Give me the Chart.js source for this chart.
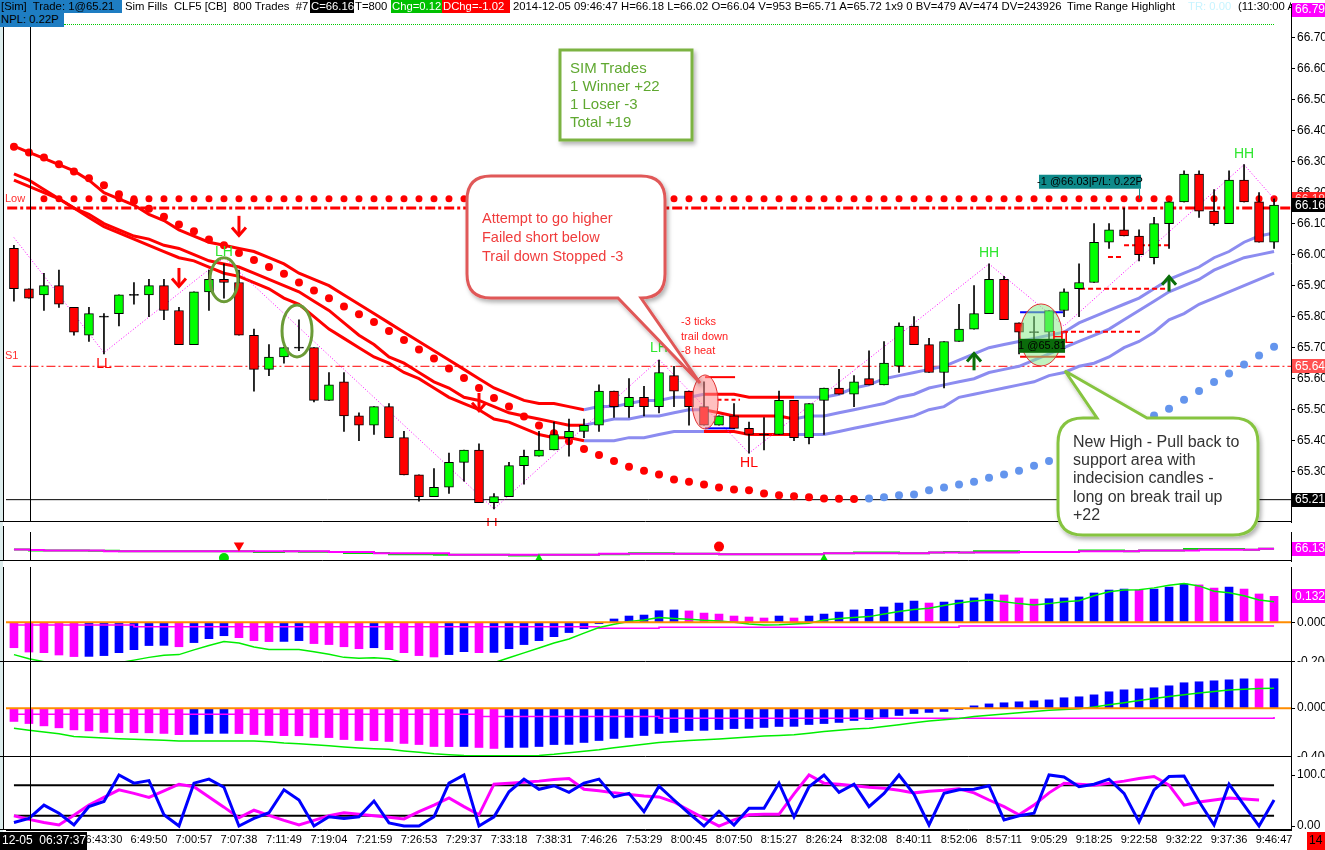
<!DOCTYPE html>
<html>
<head>
<meta charset="utf-8">
<title>CLF5 800 Trades</title>
<script src="https://cdn.jsdelivr.net/npm/chart.js@4.4.1/dist/chart.umd.min.js"></script>
<style>
  html, body { margin: 0; padding: 0; background: #fff; overflow: hidden; }
  #wrap { position: relative; width: 1325px; height: 850px; font-family: "Liberation Sans", Arial, sans-serif; }
  #wrap canvas { position: absolute; left: 0; }
  #header { position: absolute; left: 0; top: 0; width: 1291px; height: 27px; overflow: hidden; font-size: 11.3px; line-height: 13px; white-space: pre; }
  #header span { position: absolute; top: 0; height: 13px; }
  #header .box { text-align: left; padding-left: 1px; }
  #dots { position: absolute; left: 64px; top: 24px; width: 1210px; border-top: 1px dotted #00cc00; }
  #notes { position: absolute; left: 0; top: 0; pointer-events: none; }
</style>
</head>
<body>
<div id="wrap">
  <canvas id="cMain" width="1325" height="526" style="top:0"></canvas>
  <canvas id="cSig" width="1325" height="41" style="top:526px"></canvas>
  <canvas id="cHist1" width="1325" height="95" style="top:567px"></canvas>
  <canvas id="cHist2" width="1325" height="95" style="top:662px"></canvas>
  <canvas id="cStoch" width="1325" height="93" style="top:757px"></canvas>

  <div id="header">
    <span class="box" style="left:0;width:121px;background:#1e7dc2;color:#000">[Sim]  Trade: 1@65.21</span>
    <span style="left:125px">Sim Fills  CLF5 [CB]  800 Trades  #7</span>
    <span class="box" style="left:310px;width:43px;background:#000;color:#fff">C=66.16</span>
    <span style="left:355px">T=800</span>
    <span class="box" style="left:391px;width:50px;background:#00c000;color:#fff">Chg=0.12</span>
    <span class="box" style="left:442px;width:67px;background:#ff0000;color:#fff">DChg=-1.02</span>
    <span style="left:513px">2014-12-05 09:46:47 H=66.18 L=66.02 O=66.04 V=953 B=65.71 A=65.72 1x9 0 BV=479 AV=474 DV=243926</span>
    <span style="left:1067px">Time Range Highlight</span>
    <span style="left:1188px;color:#c8f4ff">TR: 0.00</span>
    <span style="left:1238px">(11:30:00 AM</span>
    <span class="box" style="left:0;top:13px;width:63px;height:14px;background:#1e7dc2;color:#000">NPL: 0.22P</span>
    <div id="dots"></div>
  </div>

  <svg id="notes" width="1325" height="850">
    <defs>
      <filter id="sh" x="-10%" y="-10%" width="130%" height="130%">
        <feDropShadow dx="2" dy="3" stdDeviation="2" flood-color="#000" flood-opacity="0.3"/>
      </filter>
    </defs>
    <rect x="560" y="50" width="132" height="90" fill="#fff" stroke="#7cb342" stroke-width="3" filter="url(#sh)"/>
    <text font-family="Liberation Sans, Arial" font-size="15" fill="#5fa830">
      <tspan x="570" y="73">SIM Trades</tspan>
      <tspan x="570" y="91">1 Winner +22</tspan>
      <tspan x="570" y="109">1 Loser -3</tspan>
      <tspan x="570" y="127">Total +19</tspan>
    </text>
    <path d="M491,176 H641 Q665,176 665,200 V274 Q665,298 641,298 L700,383 L618,298 H491 Q467,298 467,274 V200 Q467,176 491,176 Z"
          fill="#fff" stroke="#e05858" stroke-width="3" filter="url(#sh)"/>
    <text font-family="Liberation Sans, Arial" font-size="14.5" fill="#f03c3c">
      <tspan x="482" y="223">Attempt to go higher</tspan>
      <tspan x="482" y="242">Failed short below</tspan>
      <tspan x="482" y="261">Trail down Stopped -3</tspan>
    </text>
    <path d="M1083,418 H1097 L1065,371 L1147,418 H1233 Q1258,418 1258,443 V510 Q1258,535 1233,535 H1083 Q1058,535 1058,510 V443 Q1058,418 1083,418 Z"
          fill="#fff" stroke="#86c440" stroke-width="3" filter="url(#sh)"/>
    <text font-family="Liberation Sans, Arial" font-size="16" fill="#333">
      <tspan x="1073" y="447">New High - Pull back to</tspan>
      <tspan x="1073" y="465">support area with</tspan>
      <tspan x="1073" y="483">indecision candles -</tspan>
      <tspan x="1073" y="502">long on break trail up</tspan>
      <tspan x="1073" y="520">+22</tspan>
    </text>
  </svg>
</div>

<script>
// ---------- data (one entry per 800-trade bar) ----------
const candleOpen = [66.02,65.89,65.87,65.90,65.83,65.74,65.80,65.81,65.87,65.87,
  65.90,65.82,65.71,65.88,65.92,65.91,65.74,65.63,65.67,65.70,
  65.70,65.53,65.59,65.48,65.45,65.51,65.41,65.29,65.22,65.25,
  65.33,65.37,65.20,65.22,65.32,65.35,65.37,65.41,65.43,65.45,
  65.56,65.51,65.54,65.51,65.61,65.56,65.51,65.45,65.48,65.44,
  65.42,65.42,65.53,65.41,65.53,65.57,65.55,65.60,65.58,65.64,
  65.77,65.71,65.62,65.72,65.76,65.81,65.92,65.78,65.75,65.75,
  65.82,65.89,65.91,66.04,66.08,66.06,65.99,66.10,66.17,66.26,
  66.14,66.10,66.24,66.17,66.04];
const candleHigh = [66.03,65.89,65.94,65.95,65.83,65.83,65.81,65.87,65.91,65.92,
  65.92,65.83,65.88,65.95,65.97,65.95,65.76,65.71,65.70,65.79,
  65.70,65.62,65.62,65.49,65.51,65.52,65.43,65.29,65.31,65.36,
  65.37,65.39,65.23,65.33,65.37,65.43,65.46,65.47,65.47,65.58,
  65.56,65.60,65.575,65.66,65.64,65.56,65.59,65.48,65.52,65.46,
  65.475,65.56,65.53,65.52,65.57,65.63,65.61,65.69,65.72,65.78,
  65.80,65.73,65.72,65.84,65.90,65.97,65.93,65.78,65.80,65.82,
  65.89,65.97,66.10,66.10,66.15,66.08,66.12,66.17,66.27,66.27,
  66.21,66.27,66.29,66.20,66.18];
const candleLow = [65.85,65.86,65.82,65.83,65.74,65.72,65.68,65.77,65.84,65.80,
  65.79,65.71,65.71,65.82,65.86,65.74,65.56,65.61,65.65,65.69,
  65.525,65.53,65.43,65.40,65.42,65.41,65.29,65.205,65.22,65.23,
  65.27,65.20,65.18,65.22,65.26,65.35,65.37,65.35,65.41,65.43,
  65.475,65.475,65.48,65.49,65.51,65.45,65.45,65.45,65.44,65.36,
  65.37,65.42,65.40,65.39,65.42,65.55,65.51,65.58,65.58,65.62,
  65.71,65.62,65.57,65.72,65.76,65.81,65.79,65.68,65.69,65.69,
  65.80,65.80,65.91,66.02,66.06,65.98,65.97,66.02,66.17,66.12,
  66.095,66.10,66.17,66.04,66.02];
const candleClose = [65.89,65.86,65.90,65.84,65.75,65.81,65.80,65.87,65.87,65.90,
  65.82,65.71,65.88,65.92,65.91,65.74,65.63,65.67,65.70,65.70,
  65.53,65.58,65.48,65.45,65.51,65.41,65.29,65.22,65.25,65.33,
  65.37,65.20,65.22,65.32,65.35,65.37,65.42,65.43,65.45,65.56,
  65.51,65.54,65.51,65.62,65.56,65.51,65.45,65.48,65.44,65.42,
  65.42,65.53,65.41,65.52,65.57,65.55,65.59,65.58,65.65,65.77,
  65.71,65.62,65.72,65.76,65.81,65.92,65.79,65.75,65.75,65.82,
  65.88,65.91,66.04,66.08,66.06,66.00,66.10,66.17,66.26,66.14,
  66.10,66.24,66.17,66.04,66.16];

// envelope bands
const bandUpper = [66.35,66.33,66.31,66.29,66.27,66.24,66.20,66.18,66.16,66.13,
  66.11,66.08,66.06,66.04,66.03,66.02,66.01,65.99,65.97,65.94,
  65.92,65.90,65.87,65.84,65.81,65.78,65.75,65.72,65.69,65.66,
  65.63,65.60,65.57,65.55,65.53,65.52,65.52,65.51,65.50,65.51,
  65.51,65.52,65.53,65.53,65.54,65.54,65.55,65.55,65.55,65.54,
  65.54,65.54,65.54,65.54,65.54,65.55,65.57,65.58,65.60,65.61,
  65.62,65.63,65.64,65.66,65.68,65.70,65.71,65.72,65.73,65.74,
  65.75,65.78,65.80,65.82,65.84,65.86,65.89,65.92,65.94,65.96,
  65.99,66.01,66.04,66.06,66.07];
const bandMiddle = [66.26,66.24,66.21,66.18,66.15,66.13,66.10,66.08,66.06,66.05,
  66.03,66.02,66.00,65.98,65.97,65.96,65.94,65.92,65.90,65.88,
  65.85,65.82,65.78,65.74,65.71,65.67,65.65,65.62,65.59,65.57,
  65.54,65.53,65.51,65.49,65.48,65.47,65.46,65.45,65.45,65.46,
  65.47,65.47,65.48,65.48,65.49,65.50,65.50,65.49,65.48,65.48,
  65.48,65.48,65.47,65.48,65.48,65.49,65.50,65.51,65.52,65.54,
  65.55,65.57,65.58,65.59,65.60,65.62,65.63,65.64,65.66,65.68,
  65.70,65.72,65.74,65.76,65.79,65.82,65.85,65.88,65.90,65.92,
  65.95,65.97,65.99,66.00,66.01];
const bandLower = [66.24,66.22,66.20,66.18,66.15,66.12,66.09,66.07,66.05,66.03,
  66.01,65.99,65.98,65.96,65.94,65.93,65.91,65.89,65.86,65.84,
  65.80,65.76,65.73,65.70,65.67,65.65,65.62,65.60,65.57,65.54,
  65.52,65.50,65.47,65.46,65.44,65.42,65.41,65.41,65.40,65.40,
  65.40,65.41,65.41,65.42,65.43,65.43,65.43,65.43,65.43,65.42,
  65.42,65.42,65.42,65.42,65.42,65.43,65.44,65.45,65.46,65.47,
  65.48,65.50,65.51,65.54,65.55,65.56,65.57,65.58,65.59,65.61,
  65.62,65.64,65.65,65.67,65.70,65.72,65.75,65.79,65.81,65.84,
  65.86,65.88,65.90,65.92,65.94];

// slow average drawn as dots
const slowMa = [66.348,66.329,66.313,66.291,66.268,66.246,66.224,66.195,66.173,66.148,
  66.122,66.097,66.075,66.049,66.030,66.005,65.983,65.960,65.938,65.910,
  65.884,65.859,65.833,65.808,65.783,65.754,65.725,65.694,65.665,65.633,
  65.602,65.570,65.538,65.510,65.478,65.449,65.424,65.398,65.373,65.354,
  65.335,65.316,65.303,65.291,65.275,65.268,65.259,65.249,65.243,65.240,
  65.230,65.224,65.221,65.218,65.214,65.213,65.212,65.214,65.218,65.224,
  65.227,65.240,65.249,65.259,65.268,65.281,65.291,65.303,65.319,65.335,
  65.354,65.373,65.392,65.414,65.436,65.459,65.481,65.503,65.532,65.560,
  65.589,65.617,65.646,65.675,65.703];

// swing zigzag
const swingIndex = [0, 6, 14, 32, 43, 49, 65, 70, 82, 84];
const swingPrice = [66.055, 65.684, 65.99, 65.18, 65.662, 65.36, 65.97, 65.77, 66.29, 66.18];

// levels
const dayHigh = 66.79;
const levelDots = 66.18;
const levelLow = 66.15;
const levelS1 = 65.64;
const entryPrice = 65.21;

// signal panel
const sigLine = [66.119,66.113,66.108,66.108,66.108,66.108,66.100,66.100,66.100,66.100,
  66.100,66.100,66.100,66.100,66.100,66.100,66.100,66.100,66.100,66.100,
  66.100,66.093,66.093,66.093,66.080,66.080,66.080,66.080,66.080,66.064,
  66.064,66.064,66.064,66.064,66.064,66.064,66.064,66.064,66.064,66.075,
  66.075,66.075,66.075,66.075,66.075,66.075,66.075,66.071,66.071,66.071,
  66.071,66.071,66.071,66.071,66.080,66.080,66.080,66.080,66.080,66.080,
  66.080,66.088,66.088,66.088,66.088,66.088,66.088,66.093,66.093,66.093,
  66.093,66.100,66.100,66.100,66.100,66.108,66.108,66.108,66.108,66.117,
  66.117,66.117,66.117,66.128,66.128];
const sigGreen = [66.119,66.108,66.108,66.108,66.108,66.106,66.106,66.100,66.100,66.100,
  66.100,66.100,66.100,66.100,66.100,66.100,66.093,66.093,66.100,66.096,
  66.096,66.093,66.083,66.083,66.083,66.071,66.071,66.071,66.064,66.064,
  66.064,66.064,66.064,66.057,66.057,66.064,66.064,66.064,66.064,66.071,
  66.071,66.080,66.080,66.080,66.075,66.075,66.075,66.071,66.071,66.071,
  66.071,66.071,66.071,66.071,66.080,66.080,66.088,66.088,66.088,66.080,
  66.080,66.088,66.093,66.088,66.100,66.100,66.100,66.093,66.093,66.093,
  66.093,66.108,66.108,66.108,66.100,66.108,66.108,66.108,66.124,66.124,
  66.124,66.124,66.117,66.128,66.128];
const sigDotIndex = [14, 47];
const sigDotValue = [66.031, 66.149];
const sigTriIndex = [15, 35, 54];
const sigTriValue = [66.161, 66.012, 66.012];

// first histogram panel
const hist1 = [-0.129,-0.151,-0.154,-0.166,-0.174,-0.173,-0.169,-0.154,-0.139,-0.118,
  -0.117,-0.124,-0.103,-0.083,-0.068,-0.078,-0.093,-0.098,-0.097,-0.093,
  -0.108,-0.113,-0.124,-0.134,-0.129,-0.139,-0.154,-0.169,-0.176,-0.164,
  -0.149,-0.154,-0.153,-0.134,-0.113,-0.093,-0.073,-0.052,-0.032,-0.007,
  0.017,0.032,0.037,0.059,0.063,0.058,0.047,0.042,0.032,0.027,
  0.022,0.032,0.022,0.032,0.042,0.052,0.063,0.066,0.078,0.098,
  0.108,0.098,0.103,0.113,0.124,0.144,0.139,0.124,0.118,0.120,
  0.124,0.129,0.149,0.164,0.169,0.164,0.169,0.179,0.195,0.190,
  0.174,0.179,0.169,0.144,0.132];
const hist1Signal = [-0.164,-0.185,-0.200,-0.212,-0.223,-0.222,-0.219,-0.205,-0.192,-0.178,
  -0.167,-0.164,-0.140,-0.118,-0.098,-0.105,-0.125,-0.138,-0.138,-0.138,
  -0.150,-0.162,-0.178,-0.183,-0.180,-0.185,-0.205,-0.220,-0.229,-0.218,
  -0.205,-0.205,-0.205,-0.180,-0.155,-0.130,-0.105,-0.085,-0.055,-0.026,
  -0.010,0.004,0.012,0.025,0.020,0.015,0.010,0.007,0.000,-0.008,
  -0.014,-0.012,-0.008,-0.005,0.012,0.020,0.025,0.029,0.042,0.055,
  0.065,0.071,0.085,0.098,0.108,0.113,0.105,0.095,0.088,0.095,
  0.105,0.110,0.135,0.155,0.164,0.165,0.175,0.188,0.197,0.185,
  0.158,0.150,0.135,0.113,0.105];
const hist1Base = [-0.014,-0.014,-0.014,-0.014,-0.014,-0.014,-0.014,-0.014,-0.022,-0.022,
  -0.022,-0.022,-0.022,-0.022,-0.022,-0.022,-0.022,-0.022,-0.022,-0.022,
  -0.022,-0.022,-0.022,-0.022,-0.022,-0.022,-0.022,-0.022,-0.022,-0.022,
  -0.022,-0.022,-0.022,-0.022,-0.022,-0.022,-0.022,-0.022,-0.022,-0.030,
  -0.030,-0.030,-0.030,-0.025,-0.025,-0.025,-0.025,-0.025,-0.025,-0.025,
  -0.025,-0.025,-0.025,-0.025,-0.025,-0.025,-0.025,-0.025,-0.025,-0.025,
  -0.025,-0.025,-0.025,-0.019,-0.019,-0.019,-0.019,-0.019,-0.019,-0.019,
  -0.019,-0.019,-0.019,-0.019,-0.019,-0.019,-0.019,-0.019,-0.019,-0.019,
  -0.019,-0.019,-0.019,-0.019,-0.019];

// second histogram panel
const hist2 = [-0.109,-0.126,-0.145,-0.161,-0.178,-0.186,-0.199,-0.200,-0.201,-0.202,
  -0.207,-0.217,-0.215,-0.207,-0.206,-0.208,-0.216,-0.224,-0.225,-0.226,
  -0.240,-0.241,-0.257,-0.265,-0.266,-0.273,-0.289,-0.298,-0.314,-0.315,
  -0.314,-0.322,-0.330,-0.322,-0.321,-0.314,-0.298,-0.297,-0.281,-0.265,
  -0.248,-0.240,-0.224,-0.207,-0.199,-0.183,-0.182,-0.175,-0.167,-0.166,
  -0.158,-0.150,-0.149,-0.134,-0.126,-0.117,-0.101,-0.093,-0.076,-0.060,
  -0.044,-0.035,-0.027,-0.011,0.019,0.035,0.044,0.052,0.060,0.068,
  0.085,0.093,0.109,0.134,0.150,0.158,0.167,0.183,0.208,0.216,
  0.224,0.232,0.240,0.239,0.241];
const hist2Signal = [-0.164,-0.180,-0.195,-0.210,-0.232,-0.238,-0.245,-0.250,-0.254,-0.258,
  -0.262,-0.268,-0.268,-0.268,-0.268,-0.268,-0.268,-0.275,-0.285,-0.292,
  -0.300,-0.308,-0.318,-0.326,-0.332,-0.336,-0.350,-0.362,-0.374,-0.382,
  -0.388,-0.390,-0.390,-0.390,-0.390,-0.388,-0.378,-0.365,-0.352,-0.341,
  -0.325,-0.310,-0.295,-0.281,-0.273,-0.265,-0.259,-0.252,-0.244,-0.236,
  -0.229,-0.223,-0.218,-0.205,-0.192,-0.180,-0.170,-0.164,-0.150,-0.135,
  -0.120,-0.105,-0.095,-0.085,-0.068,-0.058,-0.048,-0.038,-0.028,-0.018,
  -0.010,-0.005,0.010,0.027,0.045,0.062,0.080,0.096,0.110,0.125,
  0.137,0.148,0.155,0.160,0.164];
const hist2Base = [-0.049,-0.049,-0.049,-0.049,-0.049,-0.049,-0.049,-0.049,-0.049,-0.049,
  -0.049,-0.049,-0.049,-0.049,-0.049,-0.049,-0.049,-0.049,-0.049,-0.049,
  -0.049,-0.049,-0.049,-0.049,-0.049,-0.049,-0.049,-0.049,-0.049,-0.049,
  -0.049,-0.068,-0.068,-0.068,-0.068,-0.068,-0.068,-0.068,-0.068,-0.068,
  -0.068,-0.068,-0.068,-0.082,-0.082,-0.082,-0.082,-0.082,-0.082,-0.082,
  -0.082,-0.082,-0.082,-0.082,-0.082,-0.082,-0.082,-0.082,-0.082,-0.082,
  -0.082,-0.082,-0.082,-0.082,-0.082,-0.082,-0.082,-0.082,-0.082,-0.082,
  -0.082,-0.082,-0.082,-0.082,-0.082,-0.082,-0.082,-0.082,-0.082,-0.082,
  -0.082,-0.082,-0.082,-0.082,-0.073];

// stochastic
const stochK = [7,15,41,25,2,38,48,100,84,89,
  22,0,84,92,76,0,15,26,71,51,
  0,18,15,18,49,6,0,0,18,84,
  100,0,18,67,92,72,79,66,84,92,
  57,64,28,78,51,25,0,29,2,35,
  35,84,18,77,100,66,82,38,64,100,
  62,2,64,71,72,79,12,20,25,100,
  96,77,82,92,64,8,71,97,98,48,
  2,82,41,0,51];
const stochD = [20,13,7,2,21,41,56,71,64,56,
  69,82,77,57,37,16,31,21,11,2,
  11,20,26,23,20,17,14,28,41,55,
  38,22,82,84,86,88,91,93,72,69,
  65,62,59,57,47,31,15,0,12,22,
  23,23,63,100,84,82,79,76,74,70,
  65,68,70,73,65,51,38,22,41,65,
  84,82,80,84,88,93,97,80,41,47,
  51,55,53,51,null];
const stochHigh = 80, stochLowLevel = 20;

const timeTicks = ['6:43:30','6:49:50','7:00:57','7:07:38','7:11:49','7:19:04','7:21:59','7:26:53','7:29:37',
  '7:33:18','7:38:31','7:46:26','7:53:29','8:00:45','8:07:50','8:15:27','8:26:24','8:32:08',
  '8:40:11','8:52:06','8:57:11','9:05:29','9:18:25','9:22:58','9:32:22','9:37:36','9:46:47'];
const firstTick = 6, tickStep = 3;
const cursorIndex = 1.07;

// ---------- helpers ----------
const N = candleOpen.length;
const FONT = '"Liberation Sans", Arial, sans-serif';
const X_MIN = -0.53, X_MAX = 85.13;
const AXIS_W = 34;
const RED = '#ff0000', GREEN = '#00ff00', MAGENTA = '#ff00ff', BLUE = '#0000ff';
const LAVENDER = '#8c8cf0', SKY = '#6495ed', ORANGE = '#ff8c00';

function pts(arr) {
    return arr.map(function(v, i) { return {x: i, y: v}; });
}

function flatLine(v, from, to) {
    return [{x: from, y: v}, {x: to, y: v}];
}

// rising flag per step, ties keep the previous direction
function risingFlags(arr) {
    let last = false;
    return arr.map(function(v, i) {
        if (i > 0 && v !== arr[i - 1]) last = v > arr[i - 1];
        return last;
    });
}

function xAxis() {
    return { type: 'linear', min: X_MIN, max: X_MAX, offset: false, display: false };
}

function yAxis(min, max, ticks, fmt) {
    return {
        position: 'right', min: min, max: max,
        afterBuildTicks: function(s) { s.ticks = ticks.map(function(v) { return {value: v}; }); },
        afterFit: function(s) { s.width = AXIS_W; s.paddingTop = 0; s.paddingBottom = 0; },
        ticks: { color: '#000', padding: 2, font: {family: FONT, size: 12}, callback: fmt },
        grid: { drawOnChartArea: false, tickLength: 4, color: '#000' },
        border: { color: '#000' }
    };
}

function baseOptions(x, y) {
    return {
        responsive: false, animation: false, events: [],
        layout: { padding: { left: 6, right: 0, top: 0, bottom: 0 } },
        plugins: { legend: { display: false }, tooltip: { enabled: false } },
        scales: { x: x, y: y }
    };
}

// ---------- plugins ----------
const panelFrame = {
    id: 'panelFrame',
    beforeDraw(chart) {
        const {ctx} = chart;
        ctx.save();
        ctx.fillStyle = '#dcecec';
        ctx.fillRect(0, 0, 3, chart.height);
        ctx.restore();
    },
    afterDraw(chart) {
        const {ctx, chartArea} = chart;
        ctx.save();
        ctx.strokeStyle = '#000';
        ctx.lineWidth = 1;
        ctx.beginPath();
        ctx.moveTo(3.5, 0);
        ctx.lineTo(3.5, chartArea.bottom);
        ctx.moveTo(0, chartArea.bottom - 0.5);
        ctx.lineTo(chartArea.right, chartArea.bottom - 0.5);
        ctx.stroke();
        ctx.restore();
    }
};

const cursorLine = {
    id: 'cursorLine',
    afterDatasetsDraw(chart) {
        const {ctx, chartArea} = chart;
        const x = Math.round(chart.scales.x.getPixelForValue(cursorIndex)) + 0.5;
        ctx.save();
        ctx.strokeStyle = '#000';
        ctx.lineWidth = 1;
        ctx.beginPath();
        ctx.moveTo(x, chartArea.top);
        ctx.lineTo(x, chartArea.bottom);
        ctx.stroke();
        ctx.restore();
    }
};

function axisTags(tags) {
    return {
        id: 'axisTags',
        afterDraw(chart) {
            const {ctx, chartArea} = chart;
            const y = chart.scales.y;
            ctx.save();
            ctx.font = '12px ' + FONT;
            ctx.textBaseline = 'middle';
            tags.forEach(function(t) {
                const py = y.getPixelForValue(t.value);
                ctx.fillStyle = t.bg;
                ctx.fillRect(chartArea.right + 1, Math.round(py) - 7, AXIS_W, 14);
                ctx.fillStyle = t.fg;
                ctx.fillText(t.text, chartArea.right + 4, py + 0.5);
            });
            ctx.restore();
        }
    };
}

function drawArrow(ctx, x, y0, y1, color) {
    const dir = Math.sign(y1 - y0);
    ctx.strokeStyle = color;
    ctx.lineWidth = 3;
    ctx.beginPath();
    ctx.moveTo(x, y0);
    ctx.lineTo(x, y1);
    ctx.stroke();
    ctx.beginPath();
    ctx.moveTo(x - 7, y1 - dir * 8);
    ctx.lineTo(x, y1);
    ctx.lineTo(x + 7, y1 - dir * 8);
    ctx.stroke();
}

const mainNotes = {
    id: 'mainNotes',
    afterDatasetsDraw(chart) {
        const {ctx} = chart;
        const X = function(i) { return chart.scales.x.getPixelForValue(i); };
        const Y = function(p) { return chart.scales.y.getPixelForValue(p); };
        ctx.save();

        // highlight ellipses
        ctx.lineWidth = 1;
        ctx.fillStyle = 'rgba(255,140,140,0.55)';
        ctx.strokeStyle = '#e03030';
        ctx.beginPath(); ctx.ellipse(X(46.07), Y(65.525), 13, 27, 0, 0, Math.PI * 2); ctx.fill(); ctx.stroke();
        ctx.fillStyle = 'rgba(140,235,140,0.55)';
        ctx.beginPath(); ctx.ellipse(X(68.47), Y(65.741), 21, 31, 0, 0, Math.PI * 2); ctx.fill(); ctx.stroke();
        ctx.strokeStyle = '#6b9b37';
        ctx.lineWidth = 3;
        ctx.beginPath(); ctx.ellipse(X(14), Y(65.919), 14, 22, 0, 0, Math.PI * 2); ctx.stroke();
        ctx.beginPath(); ctx.ellipse(X(18.87), Y(65.754), 15, 26, 0, 0, Math.PI * 2); ctx.stroke();

        // arrows
        drawArrow(ctx, X(15), Y(66.125), Y(66.062), RED);
        drawArrow(ctx, X(11), Y(65.957), Y(65.897), RED);
        drawArrow(ctx, X(31), Y(65.554), Y(65.497), RED);
        drawArrow(ctx, X(64), Y(65.627), Y(65.681), '#0a6e0a');
        drawArrow(ctx, X(77), Y(65.881), Y(65.929), '#0a6e0a');

        // swing labels
        ctx.textAlign = 'center';
        ctx.textBaseline = 'middle';
        ctx.font = '14px ' + FONT;
        [[6, 65.646, 'LL', RED], [14, 66.008, 'LH', '#2fe62f'], [32, 65.132, 'LL', RED],
         [43, 65.697, 'LH', '#2fe62f'], [49, 65.329, 'HL', RED], [65, 66.005, 'HH', '#2fe62f'],
         [82, 66.325, 'HH', '#2fe62f']].forEach(function(l) {
            ctx.fillStyle = l[3];
            ctx.fillText(l[2], X(l[0]), Y(l[1]));
        });
        ctx.font = '17px ' + FONT;
        ctx.fillStyle = RED;
        ctx.fillText('HL', X(69.9), Y(65.729));

        // level captions
        ctx.textAlign = 'left';
        ctx.font = '11px ' + FONT;
        ctx.fillStyle = '#ff3030';
        ctx.fillText('Low', 5, Y(levelDots));
        ctx.fillText('S1', 5, Y(levelS1) - 10);

        // trade comment
        ctx.fillStyle = '#ff2020';
        ctx.font = '11px ' + FONT;
        ctx.fillText('-3 ticks', X(44.47), Y(65.783));
        ctx.fillText('trail down', X(44.47), Y(65.783) + 15);
        ctx.fillText('-8 heat', X(44.47), Y(65.783) + 29);

        // order tags
        ctx.font = '11px ' + FONT;
        ctx.textAlign = 'center';
        ctx.fillStyle = '#0b6b0b';
        ctx.fillRect(X(67.0), Y(65.706) - 7, 46, 14);
        ctx.fillStyle = '#000';
        ctx.fillText('1 @65.81', X(67.0) + 23, Y(65.706));
        ctx.fillStyle = '#0e8a8a';
        ctx.fillRect(X(68.33), Y(66.235) - 7, 102, 14);
        ctx.fillStyle = '#000';
        ctx.fillText('-1 @66.03|P/L: 0.22P', X(68.33) + 51, Y(66.235));
        ctx.strokeStyle = '#0e8a8a';
        ctx.lineWidth = 1;
        ctx.beginPath();
        ctx.moveTo(X(75) + 0.5, Y(66.235) + 7);
        ctx.lineTo(X(75) + 0.5, Y(levelDots));
        ctx.stroke();
        ctx.restore();
    }
};

// ---------- main price chart ----------
function creaGraficoPrezzo() {
    const ctx = document.getElementById('cMain');
    const bodies = candleOpen.map(function(o, i) {
        const c = candleClose[i];
        if (o === c) return {x: i, y: [o - 0.0016, o + 0.0016]};
        return {x: i, y: [o, c]};
    });
    const bodyColors = candleOpen.map(function(o, i) {
        const c = candleClose[i];
        return c > o ? GREEN : (c < o ? RED : '#000');
    });
    const wicks = candleLow.map(function(l, i) { return {x: i, y: [l, candleHigh[i]]}; });
    const trend = risingFlags(bandMiddle);
    const bandSeg = { borderColor: function(c) { return trend[c.p0DataIndex + 1] ? LAVENDER : RED; } };
    const maTrend = risingFlags(slowMa);
    const swing = swingIndex.map(function(i, k) { return {x: i, y: swingPrice[k]}; });

    function band(data) {
        return { type: 'line', data: pts(data), borderWidth: 3, pointRadius: 0, segment: bandSeg, order: 5 };
    }
    function trade(p, from, to, color, dash) {
        return { type: 'line', data: flatLine(p, from, to), borderColor: color, borderWidth: 2,
                 borderDash: dash || [], pointRadius: 0, order: 2 };
    }

    const options = baseOptions(xAxis(),
        yAxis(65.138, 66.808, [65.3,65.4,65.5,65.6,65.7,65.8,65.9,66.0,66.1,66.2,66.3,66.4,66.5,66.6,66.7],
              function(v) { return v.toFixed(2); }));

    new Chart(ctx, {
        type: 'bar',
        data: {
            datasets: [
                { data: bodies, backgroundColor: bodyColors, borderColor: '#000', borderWidth: 1,
                  borderSkipped: false, barThickness: 9, grouped: false, order: 0 },
                { data: wicks, backgroundColor: '#000', barThickness: 1, grouped: false, order: 1 },
                trade(65.605, 46.07, 48.07, RED),
                trade(65.440, 46.07, 48.07, BLUE),
                trade(65.532, 46.9, 48.4, RED, [4, 3]),
                trade(65.814, 67.07, 69.93, BLUE),
                trade(65.671, 67.07, 70.07, RED),
                trade(65.751, 69.93, 75.07, RED, [5, 3]),
                trade(65.890, 71.07, 77.07, RED, [5, 3]),
                trade(65.992, 72.93, 73.87, RED, [5, 3]),
                trade(66.030, 74.0, 77.07, RED, [5, 3]),
                { type: 'line', data: swing, borderColor: MAGENTA, borderWidth: 1, borderDash: [1, 2],
                  pointRadius: 0, order: 3 },
                { type: 'line', data: pts(slowMa), showLine: false, pointRadius: 4, borderWidth: 0,
                  pointBackgroundColor: maTrend.map(function(r) { return r ? SKY : RED; }), order: 4 },
                band(bandUpper),
                band(bandMiddle),
                band(bandLower),
                { type: 'line', data: pts(candleOpen.map(function() { return levelDots; })).slice(2),
                  showLine: false, pointRadius: 3.5, borderWidth: 0, pointBackgroundColor: RED, order: 7 },
                { type: 'line', data: flatLine(levelLow, -0.45, X_MAX), borderColor: RED, borderWidth: 3,
                  borderDash: [10, 3, 3, 3], pointRadius: 0, order: 7 },
                { type: 'line', data: flatLine(levelS1, -0.1, X_MAX), borderColor: RED, borderWidth: 1,
                  borderDash: [9, 3, 2, 3], pointRadius: 0, order: 7 },
                { type: 'line', data: flatLine(entryPrice, X_MIN, X_MAX), borderColor: '#000', borderWidth: 1,
                  pointRadius: 0, order: 7 }
            ]
        },
        options: options,
        plugins: [panelFrame, mainNotes, cursorLine, axisTags([
            {value: dayHigh, text: dayHigh.toFixed(2), bg: MAGENTA, fg: '#fff'},
            {value: levelDots, text: levelDots.toFixed(2), bg: '#ff2020', fg: '#ffd0d0'},
            {value: candleClose[N - 1], text: candleClose[N - 1].toFixed(2), bg: '#000', fg: '#fff'},
            {value: levelS1, text: levelS1.toFixed(2), bg: '#ff5050', fg: '#fff'},
            {value: entryPrice, text: entryPrice.toFixed(2), bg: '#000', fg: '#fff'}
        ])]
    });
}

// ---------- small signal panel ----------
function creaGraficoSegnali() {
    const ctx = document.getElementById('cSig');
    const dots = sigDotIndex.map(function(i, k) { return {x: i, y: sigDotValue[k]}; });
    const tris = sigTriIndex.map(function(i, k) { return {x: i, y: sigTriValue[k]}; });
    const dotColors = sigDotIndex.map(function(i, k) { return sigDotValue[k] > sigLine[i] ? RED : '#00dd00'; });
    const triColors = sigTriIndex.map(function(i, k) { return sigTriValue[k] > sigLine[i] ? RED : '#00dd00'; });
    const triRot = sigTriIndex.map(function(i, k) { return sigTriValue[k] > sigLine[i] ? 180 : 0; });

    new Chart(ctx, {
        type: 'line',
        data: {
            datasets: [
                { data: pts(sigLine), borderColor: MAGENTA, borderWidth: 2, stepped: true, pointRadius: 0, order: 1 },
                { data: pts(sigGreen), borderColor: '#00dd00', borderWidth: 2, stepped: true, pointRadius: 0, order: 2 },
                { data: dots, showLine: false, pointRadius: 5, borderWidth: 0, pointBackgroundColor: dotColors, order: 0 },
                { data: tris, showLine: false, pointStyle: 'triangle', pointRadius: 6, borderWidth: 0,
                  pointRotation: triRot, pointBackgroundColor: triColors, order: 0 }
            ]
        },
        options: baseOptions(xAxis(), yAxis(66.0, 66.3, [], function() { return ''; })),
        plugins: [panelFrame, cursorLine, axisTags([
            {value: sigLine[N - 1], text: sigLine[N - 1].toFixed(2), bg: MAGENTA, fg: '#fff'}
        ])]
    });
}

// ---------- histogram panels ----------
function creaIstogramma(id, values, signal, base, yMin, yMax, ticks, tags) {
    const ctx = document.getElementById(id);
    const up = values.map(function(v, i) { return i > 0 && v > values[i - 1]; });

    new Chart(ctx, {
        type: 'bar',
        data: {
            datasets: [
                { type: 'line', data: flatLine(0, X_MIN, X_MAX), borderColor: ORANGE, borderWidth: 2,
                  pointRadius: 0, order: 0 },
                { type: 'line', data: pts(signal), borderColor: '#00ee00', borderWidth: 1.5, pointRadius: 0, order: 1 },
                { type: 'line', data: pts(base), borderColor: MAGENTA, borderWidth: 1.5, stepped: true,
                  pointRadius: 0, order: 2 },
                { data: pts(values), backgroundColor: up.map(function(u) { return u ? BLUE : MAGENTA; }),
                  barThickness: 8, grouped: false, order: 3 }
            ]
        },
        options: baseOptions(xAxis(), yAxis(yMin, yMax, ticks, function(v) { return v.toFixed(3); })),
        plugins: [panelFrame, cursorLine, axisTags(tags)]
    });
}

// ---------- stochastic + time axis ----------
const stochExtras = {
    id: 'stochExtras',
    afterDraw(chart) {
        const {ctx} = chart;
        const h = chart.height;
        ctx.save();
        ctx.font = '12px ' + FONT;
        ctx.textBaseline = 'middle';
        ctx.fillStyle = '#000';
        ctx.fillRect(0, h - 18, 87, 18);
        ctx.fillStyle = '#fff';
        ctx.fillText('12-05  06:37:37', 2, h - 9);
        ctx.fillStyle = '#ff0000';
        ctx.fillRect(1307, h - 18, 18, 18);
        ctx.fillStyle = '#000';
        ctx.fillText('14', 1309, h - 9);
        ctx.restore();
    }
};

function creaGraficoStocastico() {
    const ctx = document.getElementById('cStoch');
    const x = {
        type: 'linear', min: X_MIN, max: X_MAX, offset: false,
        afterBuildTicks: function(s) {
            s.ticks = timeTicks.map(function(t, k) { return {value: firstTick + tickStep * k}; });
        },
        afterFit: function(s) { s.height = 20; s.paddingLeft = 0; s.paddingRight = 0; },
        ticks: { autoSkip: false, maxRotation: 0, minRotation: 0, padding: 3, color: '#000',
                 font: {family: FONT, size: 11}, callback: function(v, k) { return timeTicks[k]; } },
        grid: { display: false, drawTicks: false },
        border: { display: true, color: '#000' }
    };

    new Chart(ctx, {
        type: 'line',
        data: {
            datasets: [
                { data: pts(stochK), borderColor: BLUE, borderWidth: 3, pointRadius: 0, order: 0 },
                { data: pts(stochD), borderColor: MAGENTA, borderWidth: 3, pointRadius: 0, order: 1 },
                { data: flatLine(stochHigh, 0, N - 1), borderColor: '#000', borderWidth: 2, pointRadius: 0, order: 2 },
                { data: flatLine(stochLowLevel, 0, N - 1), borderColor: '#000', borderWidth: 2, pointRadius: 0, order: 2 }
            ]
        },
        options: baseOptions(x, yAxis(-7.8, 135.3, [0, 100], function(v) { return v.toFixed(2); })),
        plugins: [panelFrame, cursorLine, stochExtras]
    });
}

creaGraficoPrezzo();
creaGraficoSegnali();
creaIstogramma('cHist1', hist1, hist1Signal, hist1Base, -0.2015, 0.281, [-0.2, 0],
    [{value: hist1[N - 1], text: hist1[N - 1].toFixed(3), bg: MAGENTA, fg: '#fff'}]);
creaIstogramma('cHist2', hist2, hist2Signal, hist2Base, -0.40, 0.378, [-0.4, 0], []);
creaGraficoStocastico();
</script>
</body>
</html>
